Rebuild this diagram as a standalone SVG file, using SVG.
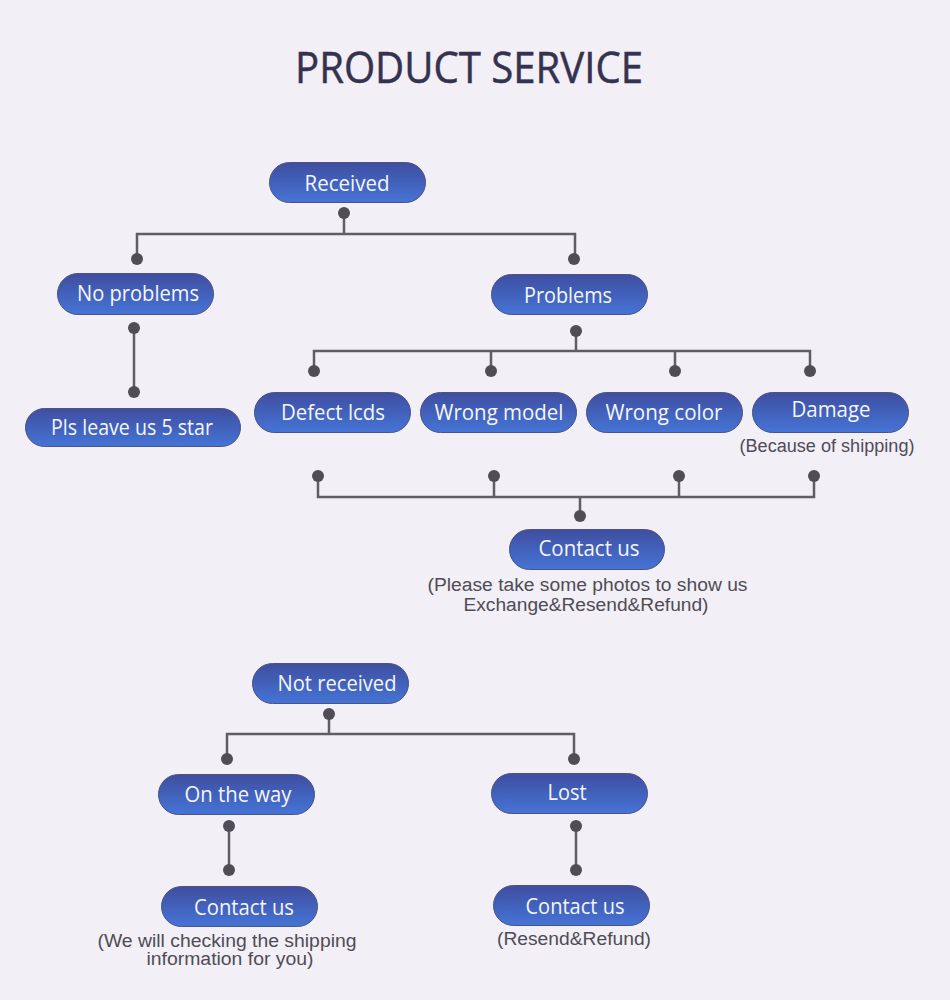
<svg xmlns="http://www.w3.org/2000/svg" width="950" height="1000" viewBox="0 0 950 1000">
<style>
.n{fill:url(#g);stroke:#4d5380;stroke-width:1}
.t{font-family:"Open Sans","Noto Sans",sans-serif;font-size:21px;fill:#f4f6fc;text-anchor:middle}
.s{font-family:"Liberation Sans",Arial,sans-serif;font-size:18px;fill:#4f4c56;text-anchor:middle}
.h{font-family:"Open Sans","Noto Sans",sans-serif;font-size:44px;fill:#35324f;stroke:#35324f;stroke-width:0.5;text-anchor:middle}
.l{fill:none;stroke:#5f5d66;stroke-width:2.5}
.d{fill:#4f4d55}
</style>
<defs><linearGradient id="g" x1="0" y1="0" x2="0" y2="1"><stop offset="0" stop-color="#3f4ea0"/><stop offset="1" stop-color="#4574d6"/></linearGradient></defs>
<rect width="950" height="1000" fill="#f2eff6"/>
<text class="h" x="469" y="83" textLength="348" lengthAdjust="spacingAndGlyphs">PRODUCT SERVICE</text>
<g id="connectors">
<path class="l" d="M344 213V234M137 259V234H575V259"/>
<path class="l" d="M134 328V392"/>
<path class="l" d="M576 331V351M314 371V351H810V371M491 351V371M675 351V371"/>
<path class="l" d="M318 476V497H814V476M494 476V497M679 476V497M580 497V516"/>
<path class="l" d="M329 714V734M227 759V734H574V759"/>
<path class="l" d="M229 826V870"/>
<path class="l" d="M576 826V870"/>
<g class="d">
<circle cx="344" cy="213" r="6"/><circle cx="137" cy="259" r="6"/><circle cx="574" cy="259" r="6"/>
<circle cx="134" cy="328" r="6"/><circle cx="134" cy="392" r="6"/>
<circle cx="576" cy="331" r="6"/><circle cx="314" cy="371" r="6"/><circle cx="491" cy="371" r="6"/><circle cx="675" cy="371" r="6"/><circle cx="810" cy="371" r="6"/>
<circle cx="318" cy="476" r="6"/><circle cx="494" cy="476" r="6"/><circle cx="679" cy="476" r="6"/><circle cx="814" cy="476" r="6"/><circle cx="580" cy="516" r="6"/>
<circle cx="329" cy="714" r="6"/><circle cx="227" cy="759" r="6"/><circle cx="574" cy="759" r="6"/>
<circle cx="229" cy="826" r="6"/><circle cx="229" cy="870" r="6"/>
<circle cx="576" cy="826" r="6"/><circle cx="576" cy="870" r="6"/>
</g>
</g>
<g id="received"><rect class="n" x="269.500" y="162.500" width="156" height="40" rx="20"/><text class="t" x="347" y="191" textLength="85" lengthAdjust="spacingAndGlyphs">Received</text></g>
<g id="no-problems"><rect class="n" x="57.500" y="273.500" width="156" height="41" rx="20.500"/><text class="t" x="138" y="301" textLength="122" lengthAdjust="spacingAndGlyphs">No problems</text></g>
<g id="problems"><rect class="n" x="491.500" y="274.500" width="156" height="40" rx="20"/><text class="t" x="568" y="303" textLength="88" lengthAdjust="spacingAndGlyphs">Problems</text></g>
<g id="leave-star"><rect class="n" x="25.500" y="408.500" width="215" height="38" rx="19"/><text class="t" x="132" y="435" textLength="162" lengthAdjust="spacingAndGlyphs">Pls leave us 5 star</text></g>
<g id="defect"><rect class="n" x="254.500" y="392.500" width="156" height="40" rx="20"/><text class="t" x="333" y="420" textLength="104" lengthAdjust="spacingAndGlyphs">Defect lcds</text></g>
<g id="wrong-model"><rect class="n" x="420.500" y="392.500" width="156" height="40" rx="20"/><text class="t" x="499" y="420" textLength="129" lengthAdjust="spacingAndGlyphs">Wrong model</text></g>
<g id="wrong-color"><rect class="n" x="586.500" y="392.500" width="156" height="40" rx="20"/><text class="t" x="664" y="420" textLength="117" lengthAdjust="spacingAndGlyphs">Wrong color</text></g>
<g id="damage"><rect class="n" x="752.500" y="392.500" width="156" height="40" rx="20"/><text class="t" x="831" y="417" textLength="79" lengthAdjust="spacingAndGlyphs">Damage</text><text class="s" x="827" y="452" textLength="175" lengthAdjust="spacingAndGlyphs">(Because of shipping)</text></g>
<g id="contact-main"><rect class="n" x="509.500" y="529.500" width="155" height="40" rx="20"/><text class="t" x="589" y="556" textLength="101" lengthAdjust="spacingAndGlyphs">Contact us</text><text class="s" x="587.500" y="591" textLength="320" lengthAdjust="spacingAndGlyphs">(Please take some photos to show us</text><text class="s" x="586" y="611" textLength="245" lengthAdjust="spacingAndGlyphs">Exchange&amp;Resend&amp;Refund)</text></g>
<g id="not-received"><rect class="n" x="252.500" y="663.500" width="156" height="40" rx="20"/><text class="t" x="337" y="691" textLength="119" lengthAdjust="spacingAndGlyphs">Not received</text></g>
<g id="on-the-way"><rect class="n" x="158.500" y="774.500" width="156" height="40" rx="20"/><text class="t" x="238" y="802" textLength="107" lengthAdjust="spacingAndGlyphs">On the way</text></g>
<g id="lost"><rect class="n" x="491.500" y="773.500" width="156" height="40" rx="20"/><text class="t" x="567" y="800" textLength="39" lengthAdjust="spacingAndGlyphs">Lost</text></g>
<g id="contact-way"><rect class="n" x="161.500" y="886.500" width="156" height="40" rx="20"/><text class="t" x="244" y="915" textLength="100" lengthAdjust="spacingAndGlyphs">Contact us</text><text class="s" x="227" y="947" textLength="259" lengthAdjust="spacingAndGlyphs">(We will checking the shipping</text><text class="s" x="230" y="965" textLength="167" lengthAdjust="spacingAndGlyphs">information for you)</text></g>
<g id="contact-lost"><rect class="n" x="493.500" y="885.500" width="156" height="40" rx="20"/><text class="t" x="575" y="914" textLength="99" lengthAdjust="spacingAndGlyphs">Contact us</text><text class="s" x="574" y="945" textLength="154" lengthAdjust="spacingAndGlyphs">(Resend&amp;Refund)</text></g>
</svg>
